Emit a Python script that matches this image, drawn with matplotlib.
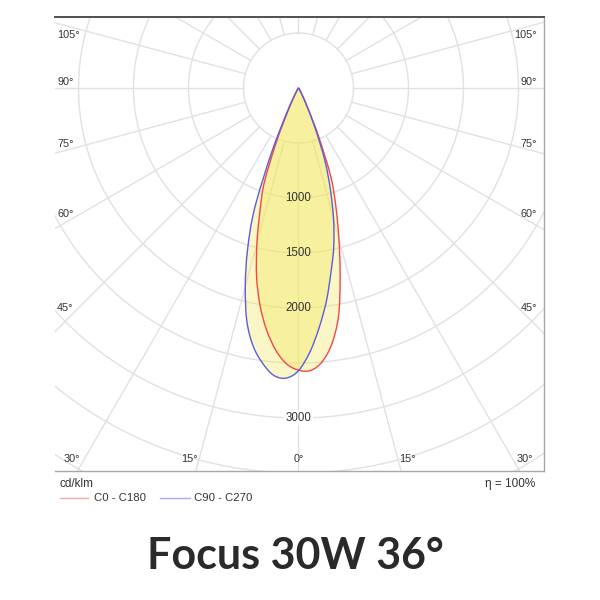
import numpy as np
import matplotlib
matplotlib.use("Agg")
import matplotlib.pyplot as plt
from matplotlib.lines import Line2D
from matplotlib.path import Path
from matplotlib.patches import PathPatch

# ---------------- data (cd/klm) ----------------
GAMMA = [0, 2.5, 5, 7.5, 10, 12.5, 15, 17.5, 20, 22.5, 25, 27.5, 30, 35, 40, 50, 60, 70, 80, 90]
C0 = [2565, 2570, 2495, 2340, 2100, 1750, 1420, 1130, 860, 480, 200, 80, 35, 15, 8, 4, 2, 1, 0, 0]
C180 = [2565, 2510, 2390, 2220, 2010, 1760, 1460, 1160, 900, 500, 200, 80, 35, 15, 8, 4, 2, 1, 0, 0]
C90 = [2570, 2400, 2180, 1950, 1700, 1480, 1230, 960, 700, 400, 170, 70, 30, 12, 6, 3, 2, 1, 0, 0]
C270 = [2570, 2640, 2620, 2520, 2380, 2170, 1870, 1540, 1170, 660, 280, 100, 40, 15, 8, 4, 2, 1, 0, 0]

RINGS = [500, 1000, 1500, 2000, 2500, 3000, 3500, 4000, 4500]
RING_LABELS = [1000, 1500, 2000, 3000]
ANGLES = [0, 15, 30, 45, 60, 75, 90, 105]
SPOKE_STEP = 15
SERIES_NAMES = ["C0 - C180", "C90 - C270"]
UNIT = "cd/klm"
EFFICIENCY = "η = 100%"
TITLE = "Focus 30W 36°"

# ---------------- geometry ----------------
W = H = 600
PX_PER_CD = 55.0 / 500.0
CX, CY = 298.5, 88.0          # pole in pixels
AX_L, AX_R, AX_T, AX_B = 55, 544, 17, 471

fig = plt.figure(figsize=(6, 6), dpi=100)
ax = fig.add_axes([AX_L / W, 1 - AX_B / H, (AX_R - AX_L) / W, (AX_B - AX_T) / H])
ax.set_xlim((AX_L - CX) / PX_PER_CD, (AX_R - CX) / PX_PER_CD)
ax.set_ylim(-(AX_B - CY) / PX_PER_CD, (CY - AX_T) / PX_PER_CD)
ax.set_xticks([]); ax.set_yticks([])
ax.spines['left'].set_visible(False)
ax.spines['top'].set_color('#505050'); ax.spines['top'].set_linewidth(1.4)
for s in ('right', 'bottom'):
    ax.spines[s].set_color('#a8a8a8'); ax.spines[s].set_linewidth(1.0)

grid_c = '#e1e1e1'
t = np.linspace(0, 2 * np.pi, 721)
for r in RINGS:
    ax.plot(r * np.sin(t), r * np.cos(t), color=grid_c, lw=1.0, zorder=1)
for a in range(0, 360, SPOKE_STEP):
    th = np.radians(a)
    ax.plot([RINGS[0] * np.sin(th), 6000 * np.sin(th)],
            [-RINGS[0] * np.cos(th), -6000 * np.cos(th)], color=grid_c, lw=1.0, zorder=1)

# ---------------- curves ----------------
g = np.radians(np.array(GAMMA, dtype=float))

def closed_curve(right, left):
    right = np.array(right, float); left = np.array(left, float)
    xl = -left[::-1] * np.sin(g[::-1]); yl = -left[::-1] * np.cos(g[::-1])
    xr = right[1:] * np.sin(g[1:]); yr = -right[1:] * np.cos(g[1:])
    return np.concatenate([xl, xr]), np.concatenate([yl, yr])

def smooth_path(x, y):
    """Catmull-Rom style smooth path (Bezier) through the measured points."""
    P = np.column_stack([x, y])
    n = len(P)
    verts = [P[0]]
    codes = [Path.MOVETO]
    for i in range(n - 1):
        p0 = P[max(i - 1, 0)]; p1 = P[i]; p2 = P[i + 1]; p3 = P[min(i + 2, n - 1)]
        verts += [p1 + (p2 - p0) / 6.0, p2 - (p3 - p1) / 6.0, p2]
        codes += [Path.CURVE4] * 3
    return Path(np.array(verts), codes)

fill_c = '#f2e85a'
red = '#f04848'
blue = '#5c5cdc'
pairs = (((C0, C180), red), ((C90, C270), blue))
for (rr, ll), col in pairs:
    p = smooth_path(*closed_curve(rr, ll))
    ax.add_patch(PathPatch(p, facecolor=fill_c, alpha=0.35, lw=0, zorder=2))
for (rr, ll), col in pairs:
    p = smooth_path(*closed_curve(rr, ll))
    ax.add_patch(PathPatch(p, facecolor='none', edgecolor=col, lw=1.0, zorder=3))

# ---------------- labels ----------------
FONT = 'Liberation Sans'
tc = '#333333'
for v in RING_LABELS:
    kw = {}
    if v > max(max(C0), max(C270)):
        kw['bbox'] = dict(boxstyle='square,pad=0.1', fc='white', ec='none')
    ax.text(0, -v, str(v), ha='center', va='center', fontsize=8.3,
            family=FONT, color=tc, zorder=4, **kw)

# angle labels placed where the (slightly rotated) spoke meets the inset frame
IN_L, IN_R, IN_B, IN_T = 67, 529, 459, 35
for a in ANGLES:
    for side in ((1,) if a == 0 else (-1, 1)):
        th = np.radians(a + (1.4 if a else 0))
        dx, dy = side * np.sin(th), np.cos(th)   # pixel direction (y down)
        ts = []
        if dx > 1e-9:
            ts.append((IN_R - CX) / dx)
        elif dx < -1e-9:
            ts.append((IN_L - CX) / dx)
        tb = (IN_B - CY) / dy if dy > 1e-9 else np.inf
        tt = min(ts + [tb])
        px, py = CX + tt * dx, CY + tt * dy
        py = max(py, IN_T)
        if tt == tb:
            ha, tx = 'center', px
        elif dx < 0:
            ha, tx = 'left', 57
        else:
            ha, tx = 'right', 537
        fig.text(tx / W, 1 - py / H, f"{a}°", ha=ha, va='center', fontsize=7.8,
                 family=FONT, color=tc)

# ---------------- legend / footer ----------------
fig.text(60 / W, 1 - 484 / H, UNIT, ha='left', va='center', fontsize=8.5, family=FONT, color=tc)
fig.text(535 / W, 1 - 484 / H, EFFICIENCY, ha='right', va='center', fontsize=8.5,
         family=[FONT, 'DejaVu Sans'], color=tc)
leg = [(60, 88, 94, '#f7a8a8', SERIES_NAMES[0]), (160, 190, 194, '#a8a8ee', SERIES_NAMES[1])]
for x0, x1, xt, col, name in leg:
    fig.add_artist(Line2D([x0 / W, x1 / W], [1 - 498 / H] * 2, color=col, lw=1.0,
                          transform=fig.transFigure))
    fig.text(xt / W, 1 - 498 / H, name, ha='left', va='center', fontsize=8.2,
             family=FONT, color=tc)

fig.text(295 / W, 1 - 556 / H, TITLE, ha='center', va='center', fontsize=31,
         family=['Lato', 'DejaVu Sans'], weight='bold', color='#2a2a2a')

fig.savefig('out.png', dpi=100, facecolor='white')
